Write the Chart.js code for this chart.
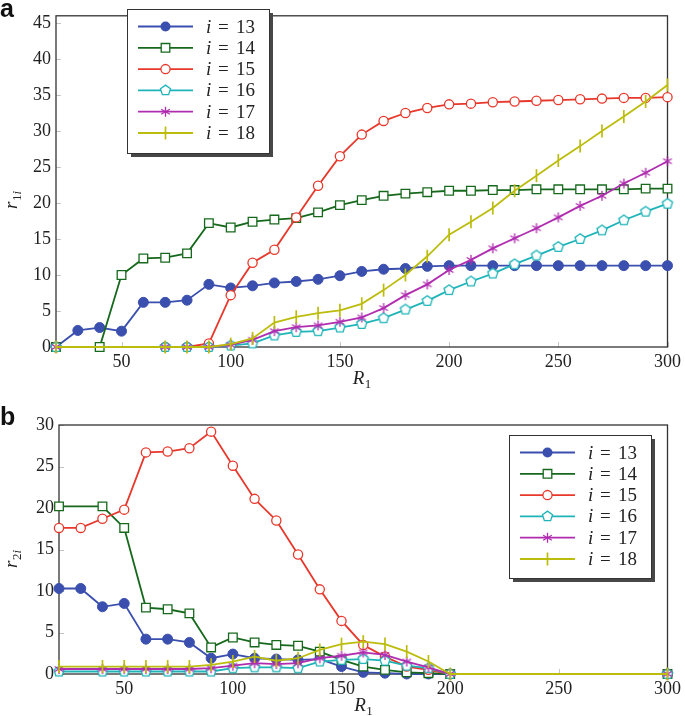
<!DOCTYPE html>
<html>
<head>
<meta charset="utf-8">
<script src="https://cdn.jsdelivr.net/npm/chart.js@4.4.0/dist/chart.umd.min.js"></script>
<style>
  html, body { margin: 0; padding: 0; background: #fff; }
  #wrap { position: relative; width: 685px; height: 716px; overflow: hidden; }
  canvas { position: absolute; left: 0; }
  #cA { top: 0; }
  #cB { top: 395px; }
  .panel { position: absolute; left: 0; font: bold 25px "Liberation Sans", Arial, sans-serif; color: #111; }
</style>
</head>
<body>
<div id="wrap">
  <canvas id="cA" width="685" height="395"></canvas>
  <canvas id="cB" width="685" height="321"></canvas>
  <div class="panel" style="top:-6px">a</div>
  <div class="panel" style="top:402px">b</div>
</div>
<script>
// R1 grid values (x axis) and tick labels
const r1Values = [20, 30, 40, 50, 60, 70, 80, 90, 100, 110, 120, 130, 140, 150, 160,
                  170, 180, 190, 200, 210, 220, 230, 240, 250, 260, 270, 280, 290, 300];
const xTicks = [50, 100, 150, 200, 250, 300];
const yTicksA = [0, 5, 10, 15, 20, 25, 30, 35, 40, 45];
const yTicksB = [0, 5, 10, 15, 20, 25, 30];

// panel a : r_1i  (null = no sample at that R1)
const a13 = [0, 2.3, 2.7, 2.2, 6.2, 6.2, 6.5, 8.7, 8.2, 8.5, 8.9, 9.1, 9.4, 9.9, 10.5,
             10.8, 10.9, 11.2, 11.3, 11.3, 11.3, 11.3, 11.3, 11.3, 11.3, 11.3, 11.3, 11.3, 11.3];
const a14 = [0, null, 0, 10.0, 12.3, 12.4, 13.0, 17.2, 16.6, 17.4, 17.7, 17.9, 18.7, 19.7, 20.4,
             21.0, 21.3, 21.5, 21.7, 21.7, 21.8, 21.8, 21.9, 21.9, 21.9, 21.9, 21.9, 22.0, 22.0];
const a15 = [0, null, null, null, null, 0, 0, 0.5, 7.2, 11.7, 13.5, 18.0, 22.4, 26.5, 29.5,
             31.4, 32.5, 33.2, 33.7, 33.8, 34.0, 34.1, 34.2, 34.3, 34.4, 34.5, 34.6, 34.6, 34.7];
const a16 = [0, null, null, null, null, 0, 0, 0, 0.2, 0.5, 1.6, 2.1, 2.2, 2.7, 3.2,
             4.0, 5.2, 6.4, 7.9, 9.1, 10.2, 11.5, 12.7, 13.9, 15.0, 16.2, 17.6, 18.8, 19.9];
const a17 = [0, null, null, null, null, 0, 0, 0, 0.3, 1.0, 2.2, 2.75, 3.0, 3.5, 4.1,
             5.4, 7.2, 8.7, 10.7, 12.1, 13.7, 15.1, 16.5, 18.0, 19.6, 21.0, 22.7, 24.2, 25.8];
const a18 = [0, null, null, null, null, 0, 0, 0, 0.4, 1.2, 3.4, 4.2, 4.7, 5.1, 6.0,
             7.9, 10.0, 12.6, 15.6, 17.4, 19.3, 21.7, 23.8, 25.9, 27.9, 30.0, 32.0, 34.1, 36.4];

// panel b : r_2i
const b13 = [10.3, 10.3, 8.1, 8.5, 4.2, 4.2, 3.8, 1.9, 2.4, 1.9, 1.8, 1.7, 1.8, 0.9, 0.2,
             0.1, 0, 0, 0, null, null, null, null, null, null, null, null, null, 0];
const b14 = [20.2, null, 20.2, 17.6, 8.0, 7.8, 7.3, 3.2, 4.4, 3.8, 3.5, 3.4, 2.7, 1.7, 0.9,
             0.5, 0.2, 0.1, 0, null, null, null, null, null, null, null, null, null, 0];
const b15 = [17.6, 17.6, 18.7, 19.8, 26.7, 26.8, 27.2, 29.2, 25.1, 21.1, 18.5, 14.4, 10.2, 6.4, 3.5,
             2.1, 0.9, 0.5, 0, null, null, null, null, null, null, null, null, null, 0];
const b16 = [0.3, null, 0.3, 0.3, 0.3, 0.3, 0.3, 0.3, 0.7, 0.8, 0.8, 0.7, 1.5, 1.7, 1.8,
             1.6, 1.0, 0.7, 0, null, null, null, null, null, null, null, null, null, 0];
const b17 = [0.6, null, 0.6, 0.6, 0.6, 0.6, 0.6, 0.7, 1.0, 1.3, 1.2, 1.3, 1.9, 2.2, 2.6,
             2.3, 1.5, 0.8, 0, null, null, null, null, null, null, null, null, null, 0];
const b18 = [0.9, null, 0.9, 0.9, 0.9, 0.9, 0.9, 1.1, 1.5, 2.1, 1.6, 1.9, 2.9, 3.6, 3.9,
             3.6, 2.7, 1.5, 0, null, null, null, null, null, null, null, null, null, 0];

const seriesLabels = ['13', '14', '15', '16', '17', '18'];
const styles = [
  { color: '#3a4fae', marker: 'dot' },
  { color: '#16691c', marker: 'square' },
  { color: '#e8372b', marker: 'circle' },
  { color: '#1eb4b8', marker: 'pentagon' },
  { color: '#b02db0', marker: 'asterisk' },
  { color: '#bcbc0c', marker: 'bar' }
];

const SERIF = '"Liberation Serif", "DejaVu Serif", serif';
const INK = '#222';

function drawMarker(ctx, kind, x, y, color) {
  ctx.save();
  ctx.strokeStyle = color;
  ctx.fillStyle = '#fff';
  ctx.lineWidth = 1.3;
  ctx.beginPath();
  if (kind === 'dot') {
    ctx.arc(x, y, 5, 0, Math.PI * 2);
    ctx.fillStyle = color;
    ctx.fill();
  } else if (kind === 'square') {
    ctx.rect(x - 4.3, y - 4.3, 8.6, 8.6);
    ctx.fill(); ctx.stroke();
  } else if (kind === 'circle') {
    ctx.arc(x, y, 4.6, 0, Math.PI * 2);
    ctx.fill(); ctx.stroke();
  } else if (kind === 'pentagon') {
    for (let k = 0; k < 5; k++) {
      const t = -Math.PI / 2 + k * 2 * Math.PI / 5;
      const px = x + 5.3 * Math.cos(t), py = y + 5.3 * Math.sin(t);
      if (k === 0) ctx.moveTo(px, py); else ctx.lineTo(px, py);
    }
    ctx.closePath();
    ctx.fill(); ctx.stroke();
  } else if (kind === 'asterisk') {
    [90, 30, 150].forEach(d => {
      const t = d * Math.PI / 180;
      ctx.moveTo(x - 5 * Math.cos(t), y - 5 * Math.sin(t));
      ctx.lineTo(x + 5 * Math.cos(t), y + 5 * Math.sin(t));
    });
    ctx.stroke();
  } else if (kind === 'bar') {
    ctx.lineWidth = 1.7;
    ctx.moveTo(x, y - 6.5);
    ctx.lineTo(x, y + 6.5);
    ctx.stroke();
  }
  ctx.restore();
}

function markerImage(kind, color) {
  const c = document.createElement('canvas');
  c.width = 14; c.height = 14;
  drawMarker(c.getContext('2d'), kind, 7, 7, color);
  return c;
}

function pointOpts(st) {
  switch (st.marker) {
    case 'dot': return { pointStyle: 'circle', pointRadius: 5, pointBackgroundColor: st.color, pointBorderColor: st.color, pointBorderWidth: 1 };
    case 'square': return { pointStyle: 'rect', pointRadius: 6.1, pointBackgroundColor: '#fff', pointBorderColor: st.color, pointBorderWidth: 1.3 };
    case 'circle': return { pointStyle: 'circle', pointRadius: 4.6, pointBackgroundColor: '#fff', pointBorderColor: st.color, pointBorderWidth: 1.3 };
    case 'bar': return { pointStyle: 'line', pointRotation: 90, pointRadius: 6.5, pointBorderColor: st.color, pointBorderWidth: 1.7 };
    default: return { pointStyle: markerImage(st.marker, st.color), pointRadius: 6 };
  }
}

function points(values) {
  const pts = [];
  values.forEach((v, k) => { if (v !== null) pts.push({ x: r1Values[k], y: v }); });
  return pts;
}

function buildDatasets(seriesList) {
  return seriesList.map((vals, k) => Object.assign({
    label: 'i = ' + seriesLabels[k],
    data: points(vals),
    borderColor: styles[k].color,
    borderWidth: 1.8,
    tension: 0,
    clip: false,
    order: 6 - k
  }, pointOpts(styles[k])));
}

// italic main letter with a subscript made of [text, italic] parts
function drawSubText(ctx, main, subs, size) {
  ctx.font = 'italic ' + size + 'px ' + SERIF;
  ctx.fillText(main, 0, 0);
  let x = ctx.measureText(main).width + 0.5;
  subs.forEach(([t, it]) => {
    ctx.font = (it ? 'italic ' : '') + Math.round(size * 0.7) + 'px ' + SERIF;
    ctx.fillText(t, x, size * 0.22);
    x += ctx.measureText(t).width;
  });
  return x;
}

const figPlugin = {
  id: 'fig',
  beforeDatasetsDraw(chart, args, o) {
    const { ctx, chartArea: a, scales } = chart;
    ctx.save();
    // inner tick marks
    ctx.strokeStyle = '#c4c4c4';
    ctx.lineWidth = 1;
    ctx.beginPath();
    xTicks.forEach(v => {
      const px = Math.round(scales.x.getPixelForValue(v)) + 0.5;
      ctx.moveTo(px, a.bottom); ctx.lineTo(px, a.bottom - 5);
    });
    o.yTicks.forEach(v => {
      const py = Math.round(scales.y.getPixelForValue(v)) + 0.5;
      ctx.moveTo(a.left, py); ctx.lineTo(a.left + 5, py);
    });
    ctx.stroke();
    // frame
    ctx.strokeStyle = '#333';
    ctx.lineWidth = 1.3;
    ctx.strokeRect(a.left, a.top, a.right - a.left, a.bottom - a.top);
    ctx.restore();
  },
  afterDraw(chart, args, o) {
    const { ctx, chartArea: a } = chart;
    ctx.save();
    ctx.fillStyle = INK;
    ctx.textBaseline = 'alphabetic';
    ctx.textAlign = 'left';
    // x title R_1
    ctx.save();
    ctx.translate((a.left + a.right) / 2 - 9, a.bottom + 37);
    drawSubText(ctx, 'R', [['1', false]], 19);
    ctx.restore();
    // y title r_{1i} / r_{2i}
    ctx.save();
    ctx.translate(17, o.yTitleMid + 13);
    ctx.rotate(-Math.PI / 2);
    drawSubText(ctx, 'r', [[o.yIndex, false], ['i', true]], 19);
    ctx.restore();

    // legend box
    const L = o.legend;
    ctx.fillStyle = '#474747';
    ctx.fillRect(L.x + 4, L.y + 4, L.w, L.h);
    ctx.fillStyle = '#fff';
    ctx.fillRect(L.x, L.y, L.w, L.h);
    ctx.strokeStyle = '#333';
    ctx.lineWidth = 1;
    ctx.strokeRect(L.x + 0.5, L.y + 0.5, L.w, L.h);
    chart.data.datasets.forEach((ds, k) => {
      const y = L.y + 17.5 + k * 21.3;
      ctx.strokeStyle = ds.borderColor;
      ctx.lineWidth = 1.8;
      ctx.beginPath();
      ctx.moveTo(L.x + 11, y); ctx.lineTo(L.x + 66, y);
      ctx.stroke();
      drawMarker(ctx, styles[k].marker, L.x + 38.5, y, ds.borderColor);
      ctx.fillStyle = INK;
      ctx.font = 'italic 19px ' + SERIF;
      ctx.fillText('i', L.x + 79, y + 6);
      ctx.font = '19px ' + SERIF;
      ctx.fillText('=', L.x + 91, y + 6);
      ctx.fillText(seriesLabels[k], L.x + 109, y + 6);
    });
    ctx.restore();
  }
};

function makeChart(id, seriesList, yMax, yTicks, pad, yWidth, xHeight, extra) {
  const tickFont = { family: SERIF, size: 18 };
  return new Chart(document.getElementById(id), {
    type: 'line',
    data: { datasets: buildDatasets(seriesList) },
    options: {
      responsive: false,
      animation: false,
      devicePixelRatio: 1,
      events: [],
      layout: { padding: pad },
      plugins: {
        legend: { display: false },
        tooltip: { enabled: false },
        fig: Object.assign({ yTicks }, extra)
      },
      scales: {
        x: {
          type: 'linear', min: 20, max: 300,
          afterBuildTicks: s => { s.ticks = xTicks.map(v => ({ value: v })); },
          afterFit: s => { s.height = xHeight; },
          grid: { display: false, drawTicks: false },
          border: { display: false },
          ticks: { font: tickFont, color: INK, padding: 4, maxRotation: 0, autoSkip: false }
        },
        y: {
          type: 'linear', min: 0, max: yMax,
          afterBuildTicks: s => { s.ticks = yTicks.map(v => ({ value: v })); },
          afterFit: s => { s.width = yWidth; },
          grid: { display: false, drawTicks: false },
          border: { display: false },
          ticks: { font: tickFont, color: INK, padding: 5, autoSkip: false }
        }
      }
    },
    plugins: [figPlugin]
  });
}

makeChart('cA', [a13, a14, a15, a16, a17, a18], 46, yTicksA,
  { left: 0, right: 16, top: 2, bottom: 0 }, 56, 48,
  { yIndex: '1', yTitleMid: 196, legend: { x: 127, y: 9, w: 142, h: 144 } });

makeChart('cB', [b13, b14, b15, b16, b17, b18], 30, yTicksB,
  { left: 0, right: 15, top: 30, bottom: 0 }, 59, 42,
  { yIndex: '2', yTitleMid: 160, legend: { x: 509, y: 40, w: 142, h: 143 } });
</script>
</body>
</html>
